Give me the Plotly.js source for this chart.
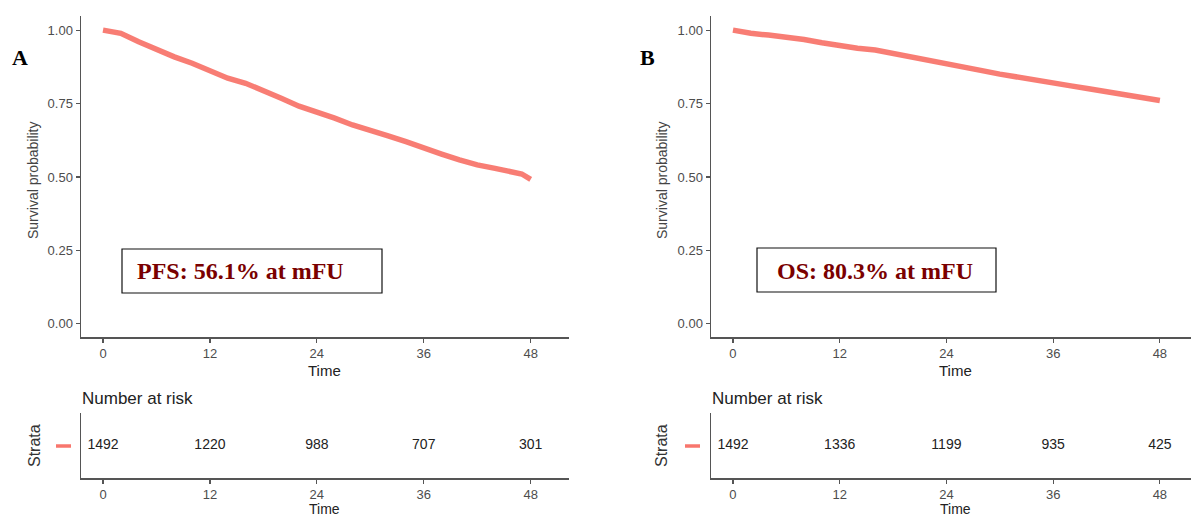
<!DOCTYPE html>
<html>
<head>
<meta charset="utf-8">
<script src="https://cdn.plot.ly/plotly-3.0.1.min.js"></script>
<style>html,body{margin:0;padding:0;background:#fff;}#chart{width:1191px;height:520px;}</style>
</head>
<body>
<div id="chart"></div>
<script>
// ---- data ----
const timesA = [0,2,4,6,8,10,12,14,16,18,20,22,24,26,28,30,32,34,36,38,40,42,44,46,47,48];
const survA  = [1.00,0.989,0.960,0.932,0.909,0.887,0.862,0.836,0.819,0.796,0.768,0.741,0.722,0.700,0.677,0.660,0.640,0.620,0.597,0.578,0.558,0.541,0.529,0.516,0.510,0.492];
const timesB = [0,2,4,6,8,10,12,14,16,18,20,22,24,26,28,30,32,34,36,38,40,42,44,46,48];
const survB  = [1.00,0.989,0.983,0.977,0.968,0.957,0.946,0.938,0.932,0.921,0.907,0.896,0.887,0.875,0.862,0.850,0.839,0.830,0.821,0.810,0.800,0.790,0.779,0.770,0.760];
const riskTimes = [0,12,24,36,48];
const riskA = [1492,1220,988,707,301];
const riskB = [1492,1336,1199,935,425];
const xTicks = [0,12,24,36,48];
const yTicks = [0,0.25,0.5,0.75,1];
const yTickText = ["0.00","0.25","0.50","0.75","1.00"];
const panelLetters = ["A","B"];
const boxTexts = ["PFS: 56.1% at mFU","OS: 80.3% at mFU"];

// ---- layout helpers (pixel -> paper) ----
const W = 1191, H = 520;
const px = x => x / W;
const py = y => 1 - y / H;
const col = '#F8766D';
const axCol = '#555555';
const sans = 'Liberation Sans, Arial, sans-serif';
const serif = 'Liberation Serif, Times New Roman, serif';

function mainX(dom, rng) {
  return {domain: dom, range: rng, showline: true, linecolor: axCol, linewidth: 1.5,
    ticks: 'outside', ticklen: 4, tickcolor: axCol, tickwidth: 1.2, tickvals: xTicks,
    showgrid: false, zeroline: false, tickfont: {family: sans, size: 13, color: '#4d4d4d'}, fixedrange: true};
}
function mainY(dom, anchor) {
  return {domain: dom, range: [-0.045, 1.048], anchor: anchor, showline: true, linecolor: axCol, linewidth: 1.5,
    ticks: 'outside', ticklen: 4, tickcolor: axCol, tickwidth: 1.2, tickvals: yTicks, ticktext: yTickText,
    showgrid: false, zeroline: false, tickfont: {family: sans, size: 13, color: '#4d4d4d'}, fixedrange: true};
}
function riskY(dom, anchor) {
  return {domain: dom, range: [-1, 1], anchor: anchor, showline: true, linecolor: axCol, linewidth: 1.5,
    ticks: '', showticklabels: false, showgrid: false, zeroline: false, fixedrange: true};
}

const xRangeA = [-2.47, 52.3];
const xRangeB = [-2.47, 51.5];
const domMainY = [py(337), py(16)];
const domRiskY = [py(478), py(413)];
const domA = [px(81), px(569)];
const domB = [px(711), 1];

const traces = [
  {x: timesA, y: survA, xaxis: 'x', yaxis: 'y', mode: 'lines', line: {color: col, width: 5.5}, opacity: 0.95, hoverinfo: 'skip'},
  {x: timesB, y: survB, xaxis: 'x2', yaxis: 'y2', mode: 'lines', line: {color: col, width: 5.5}, opacity: 0.95, hoverinfo: 'skip'},
  {x: riskTimes, y: riskTimes.map(() => 0), text: riskA.map(String), xaxis: 'x3', yaxis: 'y3', mode: 'text',
    textfont: {family: sans, size: 14, color: '#222'}, hoverinfo: 'skip'},
  {x: riskTimes, y: riskTimes.map(() => 0), text: riskB.map(String), xaxis: 'x4', yaxis: 'y4', mode: 'text',
    textfont: {family: sans, size: 14, color: '#222'}, hoverinfo: 'skip'}
];

function ann(x, y, text, opts) {
  return Object.assign({xref: 'paper', yref: 'paper', x: px(x), y: py(y), text: text, showarrow: false,
    xanchor: 'center', yanchor: 'middle'}, opts);
}

const annotations = [
  // panel letters
  ann(20, 57, '<b>' + panelLetters[0] + '</b>', {font: {family: serif, size: 22, color: '#000'}}),
  ann(647, 57, '<b>' + panelLetters[1] + '</b>', {font: {family: serif, size: 22, color: '#000'}}),
  // y axis titles
  ann(33, 180, 'Survival probability', {textangle: -90, font: {family: sans, size: 14, color: '#444'}}),
  ann(662, 180, 'Survival probability', {textangle: -90, font: {family: sans, size: 14, color: '#444'}}),
  // x axis titles main
  ann(324, 370, 'Time', {font: {family: sans, size: 15, color: '#222'}}),
  ann(955, 370, 'Time', {font: {family: sans, size: 15, color: '#222'}}),
  // risk table titles
  ann(80, 398, 'Number at risk', {xanchor: 'left', font: {family: sans, size: 17, color: '#222'}}),
  ann(710, 398, 'Number at risk', {xanchor: 'left', font: {family: sans, size: 17, color: '#222'}}),
  ann(34, 446, 'Strata', {textangle: -90, font: {family: sans, size: 16, color: '#333'}}),
  ann(661, 446, 'Strata', {textangle: -90, font: {family: sans, size: 16, color: '#333'}}),
  ann(324, 519, 'Time', {yanchor: 'bottom', font: {family: sans, size: 14, color: '#222'}}),
  ann(955, 519, 'Time', {yanchor: 'bottom', font: {family: sans, size: 14, color: '#222'}}),
  // boxed texts
  ann(240, 271, '<b>' + boxTexts[0] + '</b>', {font: {family: serif, size: 24, color: '#7a0000'}}),
  ann(875, 271, '<b>' + boxTexts[1] + '</b>', {font: {family: serif, size: 24, color: '#7a0000'}})
];

const shapes = [
  {type: 'rect', xref: 'paper', yref: 'paper', x0: px(122), x1: px(382), y0: py(293), y1: py(249), line: {color: '#111', width: 1.2}, fillcolor: 'rgba(0,0,0,0)'},
  {type: 'rect', xref: 'paper', yref: 'paper', x0: px(757), x1: px(996), y0: py(292), y1: py(248), line: {color: '#111', width: 1.2}, fillcolor: 'rgba(0,0,0,0)'},
  // strata colour keys
  {type: 'line', xref: 'paper', yref: 'paper', x0: px(56), x1: px(71), y0: py(446), y1: py(446), line: {color: col, width: 3.5}},
  {type: 'line', xref: 'paper', yref: 'paper', x0: px(685), x1: px(700), y0: py(446), y1: py(446), line: {color: col, width: 3.5}}
];

const layout = {
  width: W, height: H, margin: {l: 0, r: 0, t: 0, b: 0},
  paper_bgcolor: '#fff', plot_bgcolor: '#fff', showlegend: false,
  xaxis: Object.assign(mainX(domA, xRangeA), {anchor: 'y'}), yaxis: mainY(domMainY, 'x'),
  xaxis2: Object.assign(mainX(domB, xRangeB), {anchor: 'y2'}), yaxis2: mainY(domMainY, 'x2'),
  xaxis3: Object.assign(mainX(domA, xRangeA), {anchor: 'y3'}), yaxis3: riskY(domRiskY, 'x3'),
  xaxis4: Object.assign(mainX(domB, xRangeB), {anchor: 'y4'}), yaxis4: riskY(domRiskY, 'x4'),
  annotations: annotations, shapes: shapes
};

Plotly.newPlot('chart', traces, layout, {displayModeBar: false, staticPlot: true});
</script>
</body>
</html>
